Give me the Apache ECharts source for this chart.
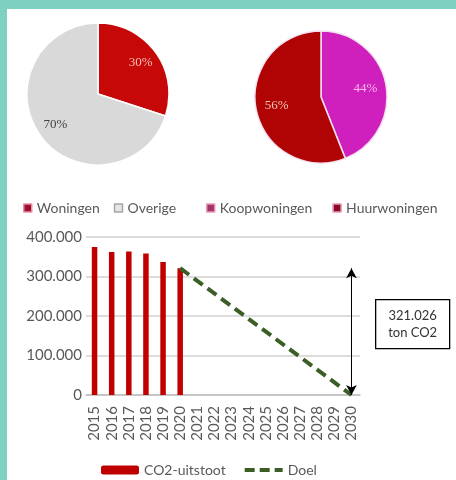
<!DOCTYPE html>
<html>
<head>
<meta charset="utf-8">
<script src="https://cdn.jsdelivr.net/npm/echarts@6/dist/echarts.min.js"></script>
<style>
  html, body { margin: 0; padding: 0; background: #fff; }
  #chart { width: 456px; height: 480px; }
</style>
</head>
<body>
<div id="chart"></div>
<script>
(function() {
	'use strict';

	// pie 1: share of housing in total CO2
	var pie1Names = ['Woningen', 'Overige'];
	var pie1Values = [30, 70];
	// pie 2: owner vs rental
	var pie2Names = ['Koopwoningen', 'Huurwoningen'];
	var pie2Values = [44, 56];

	var years = ['2015', '2016', '2017', '2018', '2019', '2020', '2021', '2022',
		'2023', '2024', '2025', '2026', '2027', '2028', '2029', '2030'];
	var uitstoot = [375000, 362000, 363000, 358000, 337000, 321026,
		null, null, null, null, null, null, null, null, null, null];
	var doel = [null, null, null, null, null, 321026,
		null, null, null, null, null, null, null, null, null, 0];
	var yTicks = [0, 100000, 200000, 300000, 400000];

	var font = 'Lato, "Noto Sans", sans-serif';
	var grey = '#595959';

	function dots(v) {
		return String(v).replace(/\B(?=(\d{3})+(?!\d))/g, '.');
	}

	function pieData(names, values, colors) {
		return names.map(function(n, i) {
			return { name: n, value: values[i], itemStyle: { color: colors[i] } };
		});
	}

	var pie1Colors = ['#c60808', '#d9d9d9'];
	var pie2Colors = ['#cf1fbc', '#b00404'];
	var pie1Label = ['#f6c4b4', '#404040'];
	var pie2Label = ['#f6b8ea', '#f4c8b8'];

	// transparent ring just for the % labels, so they sit further out than mid radius
	function labelSeries(center, radius, inner, names, values, colors) {
		return {
			type: 'pie',
			center: center,
			radius: [radius * inner, radius],
			silent: true,
			data: names.map(function(n, i) {
				return {
					name: n, value: values[i],
					itemStyle: { color: 'rgba(0,0,0,0)' },
					label: { color: colors[i] }
				};
			}),
			itemStyle: { borderWidth: 0 },
			label: {
				show: true, position: 'inside', formatter: '{c}%',
				fontFamily: '"Liberation Serif", serif', fontSize: 13
			},
			labelLine: { show: false },
			emphasis: { disabled: true },
			z: 5
		};
	}

	var legendText = { fontFamily: font, fontSize: 14, color: grey };

	var option = {
		animation: false,
		backgroundColor: '#fff',
		graphic: [
			{ type: 'rect', left: 0, top: 0, shape: { width: 456, height: 9 }, style: { fill: '#7ed0c1' }, z: 100 },
			{ type: 'rect', left: 0, top: 0, shape: { width: 7, height: 480 }, style: { fill: '#7ed0c1' }, z: 100 },
			{
				type: 'group', left: 375, top: 299, z: 100,
				children: [
					{ type: 'rect', shape: { width: 74, height: 49 }, style: { fill: '#fff', stroke: '#000', lineWidth: 1.3 } },
					{
						type: 'text', x: 37, y: 25,
						style: {
							text: dots(uitstoot[5]) + '\nton CO2', align: 'center', verticalAlign: 'middle',
							fontFamily: font, fontSize: 13, lineHeight: 17, fill: '#333'
						}
					}
				]
			}
		],
		legend: [
			{
				data: pie1Names.map(function(n, i) {
					return { name: n, itemStyle: { color: i ? '#e6e6e6' : '#9c1030', borderColor: i ? '#a8a8a8' : '#e890a0', borderWidth: 1.5 } };
				}),
				left: 18, top: 196, icon: 'rect', itemWidth: 8, itemHeight: 8, itemGap: 14,
				textStyle: legendText, selectedMode: false
			},
			{
				data: pie2Names.map(function(n, i) {
					return { name: n, itemStyle: { color: i ? '#8a0a28' : '#a83466', borderColor: '#e898b8', borderWidth: 1.5 } };
				}),
				left: 201, top: 196, icon: 'rect', itemWidth: 8, itemHeight: 8, itemGap: 20,
				textStyle: legendText, selectedMode: false
			},
			{
				data: ['CO2-uitstoot', {
					name: 'Doel', itemStyle: { opacity: 0 },
					lineStyle: { width: 4, type: [10, 5] }
				}],
				left: 96, top: 458, itemWidth: 38, itemHeight: 9, itemGap: 17,
				textStyle: legendText, selectedMode: false
			}
		],
		grid: { left: 86, right: 96, top: 237, bottom: 85 },
		xAxis: {
			type: 'category',
			data: years,
			axisLine: { lineStyle: { color: '#bfbfbf', width: 1.5 } },
			axisTick: { show: false },
			axisLabel: { rotate: 90, margin: 11, fontFamily: font, fontSize: 15, color: grey, interval: 0 }
		},
		yAxis: {
			type: 'value',
			min: yTicks[0], max: yTicks[yTicks.length - 1], interval: yTicks[1] - yTicks[0],
			axisLine: { show: false },
			axisTick: { show: false },
			splitLine: { lineStyle: { color: '#d0d0d0', width: 1.5 } },
			axisLabel: { margin: 4, fontFamily: font, fontSize: 15, color: grey, formatter: dots }
		},
		series: [
			{
				type: 'pie', center: [98, 94], radius: [0, 71],
				data: pieData(pie1Names, pie1Values, pie1Colors),
				itemStyle: { borderColor: '#fff', borderWidth: 1.5 },
				label: { show: false }, labelLine: { show: false },
				emphasis: { disabled: true }
			},
			labelSeries([98, 94], 71, 0.4, pie1Names, pie1Values, pie1Label),
			{
				type: 'pie', center: [321, 97], radius: [0, 66],
				data: pieData(pie2Names, pie2Values, pie2Colors),
				itemStyle: { borderColor: '#f4e0f0', borderWidth: 1.5 },
				label: { show: false }, labelLine: { show: false },
				emphasis: { disabled: true }
			},
			labelSeries([321, 97], 66, 0.28, pie2Names, pie2Values, pie2Label),
			{
				name: 'CO2-uitstoot', type: 'bar', data: uitstoot,
				barWidth: 5.5, itemStyle: { color: '#c00000' }
			},
			{
				name: 'Doel', type: 'line', data: doel, connectNulls: true,
				symbol: 'none',
				itemStyle: { color: '#3a5e26' },
				lineStyle: { color: '#3a5e26', width: 4, type: [11, 6] },
				markLine: {
					silent: true,
					symbol: ['arrow', 'arrow'], symbolSize: [8, 10],
					lineStyle: { color: '#000', width: 1, type: 'solid' },
					label: { show: false },
					data: [[{ coord: [years[years.length - 1], 0] }, { coord: [years[years.length - 1], uitstoot[5]] }]]
				},
				z: 3
			}
		]
	};

	var chart = echarts.init(document.getElementById('chart'));
	chart.setOption(option);
})();
</script>
</body>
</html>
